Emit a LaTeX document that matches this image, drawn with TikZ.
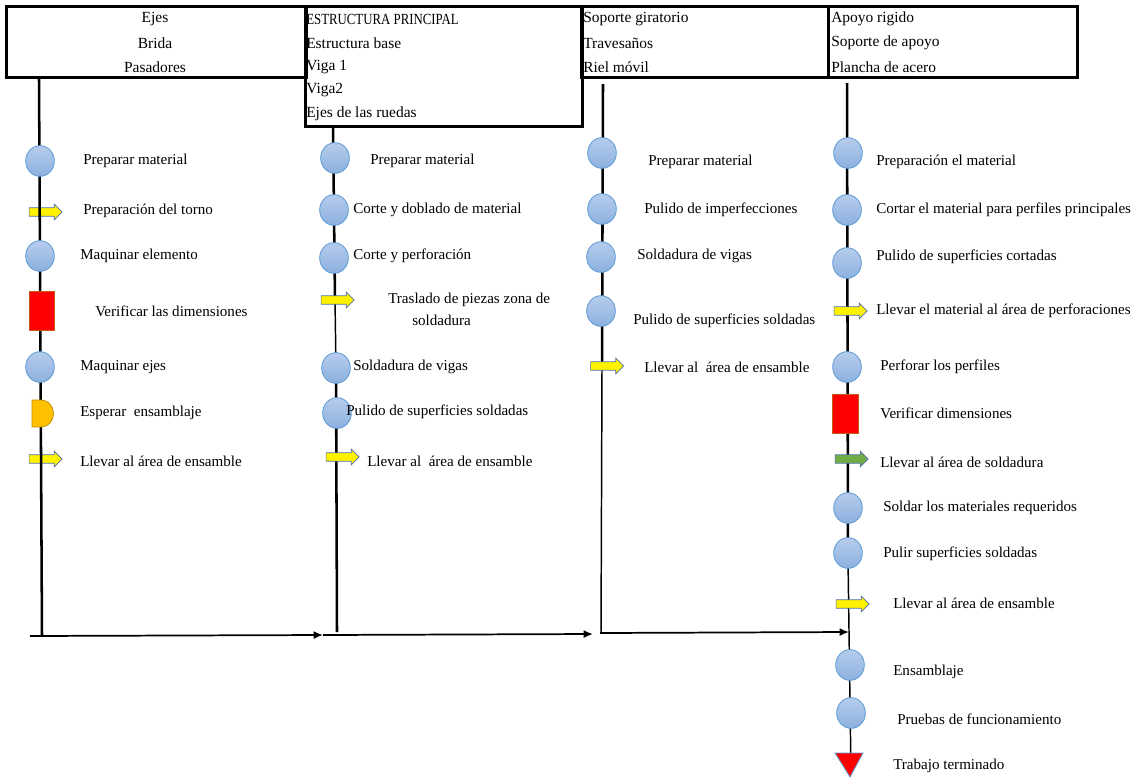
\documentclass[tikz,border=0pt]{standalone}
\usepackage{fontspec}
\setmainfont{Liberation Serif}
\usetikzlibrary{shapes.geometric,shapes.arrows,arrows.meta}
\definecolor{opfillA}{RGB}{182,204,236}
\definecolor{opfillB}{RGB}{140,176,222}
\definecolor{opline}{RGB}{91,155,213}
\definecolor{mvline}{RGB}{80,110,170}
\definecolor{waitfill}{RGB}{255,192,0}
\definecolor{waitline}{RGB}{190,144,0}
\definecolor{insline}{RGB}{197,90,17}
\definecolor{mvgreen}{RGB}{112,173,71}
\tikzset{
  hdrbox/.style={draw=black, line width=2.2pt, inner sep=0pt},
  hdrtxt/.style={font=\fontsize{11.6}{13}\selectfont, inner sep=0pt},
  lbl/.style={font=\fontsize{11.3}{13}\selectfont, anchor=west, inner sep=0pt},
  flow/.style={draw=black, line width=1.9pt},
  flowthin/.style={draw=black, line width=1.1pt},
  opcircle/.style={ellipse, draw=opline, line width=0.6pt, top color=opfillA, bottom color=opfillB,
    minimum width=21.5pt, minimum height=23pt, inner sep=0pt},
  mvarrow/.style={single arrow, draw=mvline, line width=0.5pt, fill=yellow,
    minimum height=24.75pt, inner xsep=0pt, inner ysep=2.9pt, single arrow head extend=2.7pt},
  mvgarrow/.style={mvarrow, fill=mvgreen},
  insbox/.style={rectangle, draw=insline, line width=0.6pt, fill=red,
    minimum width=19pt, minimum height=29pt, inner sep=0pt},
  joinline/.style={draw=black, line width=1.3pt, -{Latex[length=7pt,width=6pt]}},
}
\begin{document}
\begin{tikzpicture}[x=0.75pt,y=-0.75pt]
\useasboundingbox (0,0) rectangle (1144,778);

% ---- header boxes ----
\node[hdrbox, minimum width=225pt, minimum height=53.25pt, anchor=north west] (h1) at (5,5) {};
\node[hdrbox, minimum width=207.75pt, minimum height=90pt, anchor=north west] (h2) at (304,5) {};
\node[hdrbox, minimum width=185.25pt, minimum height=53.25pt, anchor=north west] (h3) at (580,5) {};
\node[hdrbox, minimum width=186.75pt, minimum height=53.25pt, anchor=north west] (h4) at (827,5) {};

\node[hdrtxt] (t1a) at (155,19) {Ejes};
\node[hdrtxt] (t1b) at (155,43) {Brida};
\node[hdrtxt] (t1c) at (155,67) {Pasadores};

\node[hdrtxt, anchor=west] (t2a) at (306,19) {\scalebox{0.83}[1]{ESTRUCTURA PRINCIPAL}};
\node[hdrtxt, anchor=west] (t2b) at (306,43) {Estructura base};
\node[hdrtxt, anchor=west] (t2c) at (306,67) {Viga 1};
\node[hdrtxt, anchor=west] (t2d) at (306,90) {Viga2};
\node[hdrtxt, anchor=west] (t2e) at (306,114) {Ejes de las ruedas};

\node[hdrtxt, anchor=west] (t3a) at (583,19) {Soporte giratorio};
\node[hdrtxt, anchor=west] (t3b) at (583,43) {Travesaños};
\node[hdrtxt, anchor=west] (t3c) at (583,67) {Riel móvil};

\node[hdrtxt, anchor=west] (t4a) at (831,19) {Apoyo rigido};
\node[hdrtxt, anchor=west] (t4b) at (831,43) {Soporte de apoyo};
\node[hdrtxt, anchor=west] (t4c) at (831,67) {Plancha de acero};

% ---- flow lines ----
\coordinate (l1a) at (39,78);   \coordinate (l1b) at (42,636);
\coordinate (l2a) at (333,126); \coordinate (l2m) at (335,300); \coordinate (l2b) at (337,632);
\coordinate (l3a) at (603,84);  \coordinate (l3m) at (602,367); \coordinate (l3b) at (601,633);
\coordinate (l4a) at (847,83);  \coordinate (l4m) at (848,560); \coordinate (l4b) at (851,772);

\draw[flow] (l2a) -- (l2m);
\draw[flowthin] (l2m) -- (336,368);
\draw[flow] (336,368) -- (l2b);
\draw[flow] (l3a) -- (l3m);
\draw[flowthin] (l3m) -- (l3b);
\draw[flow] (l4a) -- (l4m);
\draw[flowthin] (l4m) -- (l4b);

% ---- joining line along the bottom ----
\coordinate (j0) at (30,636);
\coordinate (j1) at (323,635);
\coordinate (j2) at (593,634);
\coordinate (j3) at (600,633);
\coordinate (j4) at (849,632);
\draw[joinline] (j0) -- (j1);
\draw[joinline] (j1) -- (j2);
\draw[joinline] (j3) -- (j4);

% ---- column 1 (the line runs in front of the move arrows) ----
\node[mvarrow] (a2) at (43.5,212) {};
\node[mvarrow] (a7) at (43.5,459) {};
\draw[flow] (l1a) -- (l1b);
\node[opcircle] (a1) at (40,161) {};
\node[opcircle] (a3) at (40,256) {};
\node[insbox] (a4) at (42,311) {};
\node[opcircle] (a5) at (40,367) {};
\filldraw[fill=waitfill, draw=waitline, line width=0.6pt]
  (32,400) -- (40,400) .. controls (58,400) and (58,427) .. (40,427) -- (32,427) -- cycle;
\coordinate (a6) at (42,413);

\node[lbl] (b1) at (83,161) {Preparar material};
\node[lbl] (b2) at (83,211) {Preparación del torno};
\node[lbl] (b3) at (80,256) {Maquinar elemento};
\node[lbl] (b4) at (95,311) {Verificar las dimensiones};
\node[lbl] (b5) at (80,367) {Maquinar ejes};
\node[lbl] (b6) at (80,413) {Esperar\ \ ensamblaje};
\node[lbl] (b7) at (80,461) {Llevar al área de ensamble};

% ---- column 2 ----
\node[opcircle] (c1) at (335,158) {};
\node[opcircle] (c2) at (334,210) {};
\node[opcircle] (c3) at (334,258) {};
\node[mvarrow] (c4) at (335.5,300) {};
\node[opcircle] (c5) at (336,368) {};
\node[opcircle] (c6) at (337,413) {};
\node[mvarrow] (c7) at (340.5,457) {};

\node[lbl] (d1) at (370,161) {Preparar material};
\node[lbl] (d2) at (353,210) {Corte y doblado de material};
\node[lbl] (d3) at (353,256) {Corte y perforación};
\node[lbl] (d4) at (388,300) {Traslado de piezas zona de};
\node[lbl] (d4b) at (412,320) {soldadura};
\node[lbl] (d5) at (353,367) {Soldadura de vigas};
\node[lbl] (d6) at (346,412) {Pulido de superficies soldadas};
\node[lbl] (d7) at (367,461) {Llevar al\ \ área de ensamble};

% ---- column 3 ----
\node[opcircle] (e1) at (602,153) {};
\node[opcircle] (e2) at (602,209) {};
\node[opcircle] (e3) at (601,257) {};
\node[opcircle] (e4) at (601,311) {};
\node[mvarrow] (e5) at (605,366) {};

\node[lbl] (f1) at (648,162) {Preparar material};
\node[lbl] (f2) at (644,210) {Pulido de imperfecciones};
\node[lbl] (f3) at (637,256) {Soldadura de vigas};
\node[lbl] (f4) at (633,321) {Pulido de superficies soldadas};
\node[lbl] (f5) at (644,367) {Llevar al\ \ área de ensamble};

% ---- column 4 ----
\node[opcircle] (g1) at (848,153) {};
\node[opcircle] (g2) at (847,210) {};
\node[opcircle] (g3) at (847,263) {};
\node[mvarrow] (g4) at (848.5,311) {};
\node[opcircle] (g5) at (847,367) {};
\node[insbox] (g6) at (845.5,414) {};
\node[mvgarrow] (g7) at (849.5,459) {};
\node[opcircle] (g8) at (848,508) {};
\node[opcircle] (g9) at (848,553) {};
\node[mvarrow] (g10) at (850.5,604) {};
\node[opcircle] (g11) at (850,665) {};
\node[opcircle] (g12) at (851,713) {};
\filldraw[fill=red, draw=opline, line width=0.6pt] (835,753) -- (863,753) -- (850,777) -- cycle;
\coordinate (g13) at (850,760);

\node[lbl] (k1) at (876,162) {Preparación el material};
\node[lbl] (k2) at (876,210) {Cortar el material para perfiles principales};
\node[lbl] (k3) at (876,257) {Pulido de superficies cortadas};
\node[lbl] (k4) at (876,311) {Llevar el material al área de perforaciones};
\node[lbl] (k5) at (880,367) {Perforar los perfiles};
\node[lbl] (k6) at (880,413) {Verificar dimensiones};
\node[lbl] (k7) at (880,462) {Llevar al área de soldadura};
\node[lbl] (k8) at (883,508) {Soldar los materiales requeridos};
\node[lbl] (k9) at (883,554) {Pulir superficies soldadas};
\node[lbl] (k10) at (893,603) {Llevar al área de ensamble};
\node[lbl] (k11) at (893,672) {Ensamblaje};
\node[lbl] (k12) at (897,719) {Pruebas de funcionamiento};
\node[lbl] (k13) at (893,766) {Trabajo terminado};
\end{tikzpicture}
\end{document}
